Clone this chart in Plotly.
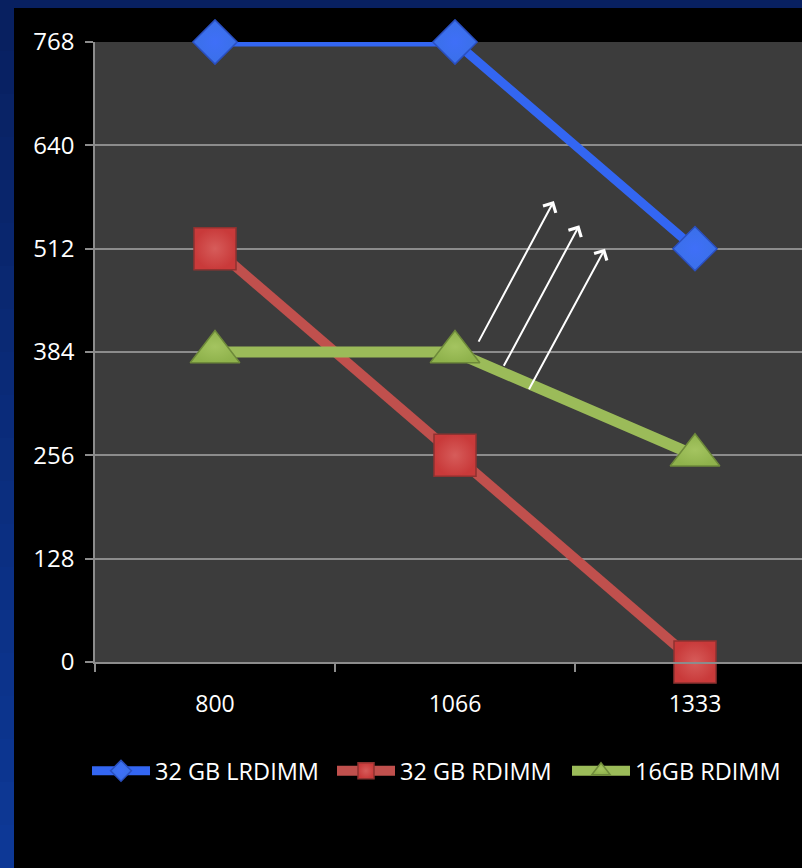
import plotly.graph_objects as go

# ---- data ----
categories = ["800", "1066", "1333"]
lrdimm_32 = [768, 768, 512]
rdimm_32 = [512, 256, 0]
rdimm_16 = [384, 384, 256]
y_ticks = [0, 128, 256, 384, 512, 640, 768]
series_names = ["32 GB LRDIMM", "32 GB RDIMM", "16GB RDIMM"]

# arrows (tail x, tail y, head x, head y) in data units (category index, value)
arrow_tail_x = [1.095, 1.200, 1.305]
arrow_tail_y = [395, 365, 336]
arrow_head_x = [1.412, 1.518, 1.625]
arrow_head_y = [571, 541, 512]

W, H = 802, 868
ML, MT, MB, MR = 95, 42, 206, 0
PW = W - ML - MR
PH = H - MT - MB

def pxx(px):
    return (px - ML) / PW

def pxy(py):
    return (H - MB - py) / PH

FONT = "Open Sans"
fig = go.Figure()

fig.add_trace(go.Scatter(
    x=categories, y=lrdimm_32, name=series_names[0], mode="lines+markers",
    line=dict(color="#3366f2", width=9),
    marker=dict(symbol="diamond", size=34, color="#3a70e8",
                gradient=dict(type="radial", color="#3f6ff8"),
                line=dict(color="#2a4fc0", width=1.5)),
    cliponaxis=False, legend="legend",
))
fig.add_trace(go.Scatter(
    x=categories, y=rdimm_32, name=series_names[1], mode="lines+markers",
    line=dict(color="#c0504d", width=10),
    marker=dict(symbol="square", size=42, color="#c93a3a",
                gradient=dict(type="radial", color="#d65c5a"),
                line=dict(color="#8f3230", width=1.5)),
    cliponaxis=False, legend="legend2",
))
fig.add_trace(go.Scatter(
    x=categories, y=rdimm_16, name=series_names[2], mode="lines+markers",
    line=dict(color="#9bbb59", width=11),
    marker=dict(symbol="triangle-up", size=43, color="#8fb24c",
                gradient=dict(type="radial", color="#a4c460"),
                line=dict(color="#6e8a3a", width=1.5)),
    cliponaxis=False, legend="legend3",
))

for tx, ty, hx, hy in zip(arrow_tail_x, arrow_tail_y, arrow_head_x, arrow_head_y):
    fig.add_annotation(
        x=hx, y=hy, ax=tx, ay=ty, xref="x", yref="y", axref="x", ayref="y",
        showarrow=True, arrowhead=4, arrowsize=1.4, arrowwidth=2,
        arrowcolor="#ffffff", text="",
    )

# blue slide border (top and left strips)
shapes = []
shapes.append(dict(type="rect", xref="paper", yref="paper",
                   x0=pxx(0), x1=pxx(W), y0=pxy(0), y1=pxy(8),
                   fillcolor="#082060", line=dict(width=0), layer="above"))
n = 20
top_c = (8, 32, 96)
bot_c = (13, 56, 150)
for i in range(n):
    f = i / (n - 1)
    c = tuple(int(round(top_c[k] + (bot_c[k] - top_c[k]) * f)) for k in range(3))
    y0 = 8 + (H - 8) * i / n
    y1 = 8 + (H - 8) * (i + 1) / n
    shapes.append(dict(type="rect", xref="paper", yref="paper",
                       x0=pxx(0), x1=pxx(14), y0=pxy(y0), y1=pxy(y1 + 1),
                       fillcolor="rgb(%d,%d,%d)" % c, line=dict(width=0), layer="above"))

def legend_at(px_left):
    return dict(orientation="h", xref="container", yref="container",
                x=px_left / W, y=(H - 771) / H, xanchor="left", yanchor="middle",
                font=dict(family=FONT, size=23.5, color="#ffffff"),
                bgcolor="rgba(0,0,0,0)", itemsizing="trace", itemwidth=58)

fig.update_layout(
    width=W, height=H,
    margin=dict(l=ML, r=MR, t=MT, b=MB, pad=0),
    paper_bgcolor="#000000",
    plot_bgcolor="#3c3c3c",
    font=dict(family=FONT, size=23, color="#ffffff"),
    showlegend=True,
    legend=legend_at(87),
    legend2=legend_at(332),
    legend3=legend_at(567),
    shapes=shapes,
    xaxis=dict(
        type="category",
        range=[-0.5, (W - 215) / 240], tickmode="array", tickvals=categories,
        ticktext=categories, tickson="boundaries", ticks="outside", ticklen=8,
        tickcolor="#8c8c8c", tickwidth=1.5, showline=True, linecolor="#8c8c8c",
        linewidth=1.5, showgrid=False, zeroline=False, ticklabelstandoff=21,
        tickfont=dict(family=FONT, size=23, color="#ffffff"),
    ),
    yaxis=dict(
        range=[0, 768], tickmode="array", tickvals=y_ticks,
        ticktext=[str(v) for v in y_ticks], ticks="outside", ticklen=8,
        tickcolor="#8c8c8c", tickwidth=1.5, showline=True, linecolor="#8c8c8c",
        linewidth=1.5, showgrid=True, gridcolor="#8c8c8c", gridwidth=1.5,
        zeroline=False, ticklabelstandoff=6,
        tickfont=dict(family=FONT, size=24, color="#ffffff"),
    ),
)

fig.write_html("out.html")
